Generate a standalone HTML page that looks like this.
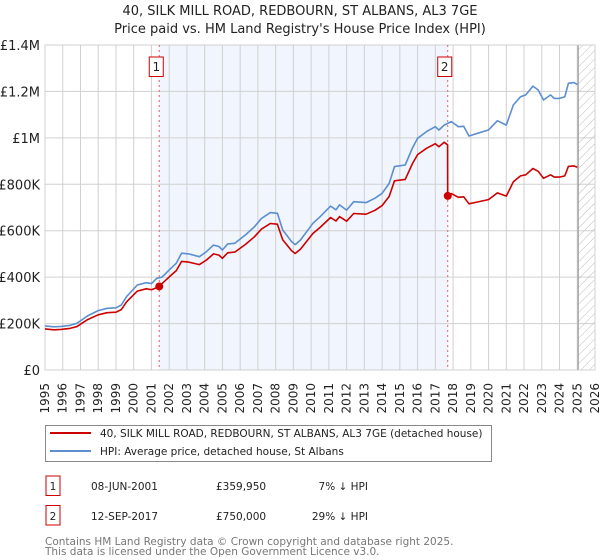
<!DOCTYPE html>
<html><head><meta charset="utf-8"><style>
body{margin:0;background:#fff;font-family:"Liberation Sans","DejaVu Sans",sans-serif;}
svg{display:block}
</style></head><body>
<svg id="chart" width="600" height="560" viewBox="0 0 600 560" font-family="DejaVu Sans, Liberation Sans, sans-serif">
<defs><pattern id="hatch" width="6" height="6" patternUnits="userSpaceOnUse" patternTransform="rotate(45)"><line x1="0" y1="0" x2="0" y2="6" stroke="#bbb" stroke-width="1"/></pattern></defs>
<text x="300" y="15" text-anchor="middle" font-size="13" fill="#222">40, SILK MILL ROAD, REDBOURN, ST ALBANS, AL3 7GE</text>
<text x="300" y="33" text-anchor="middle" font-size="13" fill="#222">Price paid vs. HM Land Registry's House Price Index (HPI)</text>
<g id="plot"></g>
<g>
<rect x="45.5" y="425.5" width="446" height="36" fill="#fff" stroke="#888"/>
<line x1="50" y1="433" x2="91" y2="433" stroke="#cc0000" stroke-width="2"/>
<text x="100" y="437" font-size="10.5" fill="#222">40, SILK MILL ROAD, REDBOURN, ST ALBANS, AL3 7GE (detached house)</text>
<line x1="50" y1="451" x2="91" y2="451" stroke="#5b8fd0" stroke-width="2"/>
<text x="100" y="455" font-size="10.5" fill="#222">HPI: Average price, detached house, St Albans</text>
</g>
<g font-size="10.5" fill="#222">
<rect x="46" y="476" width="14" height="19.5" fill="#fff" stroke="#cc0000"/>
<text x="53" y="490" text-anchor="middle">1</text>
<text x="91" y="490">08-JUN-2001</text>
<text x="216" y="490">£359,950</text>
<text x="368" y="490" text-anchor="end">7% ↓ HPI</text>
<rect x="46" y="505.5" width="14" height="19.5" fill="#fff" stroke="#cc0000"/>
<text x="53" y="520" text-anchor="middle">2</text>
<text x="91" y="520">12-SEP-2017</text>
<text x="216" y="520">£750,000</text>
<text x="368" y="520" text-anchor="end">29% ↓ HPI</text>
</g>
<text x="45" y="545" font-size="10.5" fill="#777">Contains HM Land Registry data © Crown copyright and database right 2025.</text>
<text x="45" y="555" font-size="10.5" fill="#777">This data is licensed under the Open Government Licence v3.0.</text>
</svg>
<script>
const hpiYears=[1995.0,1995.5,1995.9,1996.4,1996.8,1997.4,1998.0,1998.5,1999.0,1999.3,1999.6,2000.2,2000.7,2001.0,2001.3,2001.6,2002.0,2002.4,2002.7,2003.1,2003.7,2004.1,2004.5,2004.8,2005.0,2005.3,2005.7,2006.3,2006.8,2007.2,2007.7,2008.1,2008.4,2008.9,2009.1,2009.4,2010.1,2010.5,2011.1,2011.4,2011.6,2012.0,2012.4,2013.1,2013.6,2014.0,2014.4,2014.7,2015.3,2015.7,2016.0,2016.5,2017.0,2017.2,2017.5,2017.9,2018.3,2018.6,2018.9,2019.4,2020.0,2020.5,2021.0,2021.4,2021.8,2022.1,2022.5,2022.8,2023.1,2023.5,2023.7,2024.0,2024.3,2024.5,2024.8,2025.0];
const hpiValues=[190,186,188,192,201,233,256,266,268,280,316,366,376,372,395,400,431,460,503,500,488,510,538,532,517,543,546,582,617,653,678,675,603,553,540,560,632,660,706,690,711,689,725,721,740,761,804,876,883,955,998,1027,1048,1034,1055,1070,1048,1050,1008,1020,1034,1074,1055,1142,1177,1185,1223,1206,1163,1185,1170,1170,1177,1235,1238,1230];
const priceYears=[1995.0,1995.5,1995.9,1996.4,1996.8,1997.4,1998.0,1998.5,1999.0,1999.3,1999.6,2000.2,2000.7,2001.0,2001.3,2001.44,2001.6,2002.0,2002.4,2002.7,2003.1,2003.7,2004.1,2004.5,2004.8,2005.0,2005.3,2005.7,2006.3,2006.8,2007.2,2007.7,2008.1,2008.4,2008.9,2009.1,2009.4,2010.1,2010.5,2011.1,2011.4,2011.6,2012.0,2012.4,2013.1,2013.6,2014.0,2014.4,2014.7,2015.3,2015.7,2016.0,2016.5,2017.0,2017.2,2017.5,2017.69,2017.7,2017.9,2018.3,2018.6,2018.9,2019.4,2020.0,2020.5,2021.0,2021.4,2021.8,2022.1,2022.5,2022.8,2023.1,2023.5,2023.7,2024.0,2024.3,2024.5,2024.8,2025.0];
const priceValues=[177,173,175,179,187,217,238,247,249,260,294,340,350,346,355,360,372,401,428,468,465,454,474,500,495,481,505,508,541,574,607,631,628,561,514,502,521,588,614,657,642,661,641,674,671,688,708,748,815,821,888,928,955,975,962,981,970,750,760,744,746,716,724,734,763,749,811,836,841,868,856,826,841,831,831,836,877,879,873];
const saleYears=[2001.44,2017.7];
const saleValues=[359.95,750];
const saleLabels=["1","2"];
const yTicks=[0,200,400,600,800,1000,1200,1400];
const yTickLabels=["£0","£200K","£400K","£600K","£800K","£1M","£1.2M","£1.4M"];
const xTicks=[1995,1996,1997,1998,1999,2000,2001,2002,2003,2004,2005,2006,2007,2008,2009,2010,2011,2012,2013,2014,2015,2016,2017,2018,2019,2020,2021,2022,2023,2024,2025,2026];
const dataEndYear=2025.05;

const L=45,R=595,T=45,B=370;
const xs=y=>L+(y-1995)/(2026-1995)*(R-L);
const ys=v=>B-v/1400*(B-T);
const NS="http://www.w3.org/2000/svg";
const plot=document.getElementById('plot');
function mk(tag,attrs,parent){const e=document.createElementNS(NS,tag);for(const k in attrs)e.setAttribute(k,attrs[k]);(parent||plot).appendChild(e);return e;}

let e=mk('rect',{x:xs(saleYears[0]),y:T,width:xs(saleYears[1])-xs(saleYears[0]),height:B-T,fill:'#f1f5fd'});


xTicks.forEach(t=>{
  const g=mk('line',{x1:xs(t),x2:xs(t),y1:T,y2:B,stroke:'#d0d0d0','stroke-width':1});
  
  
  const lb=mk('text',{transform:`translate(${xs(t)+4},383) rotate(-90)`,'text-anchor':'end','font-size':12,fill:'#222'});
  lb.textContent=t;
  
  
});
yTicks.forEach((t,i)=>{
  const g=mk('line',{x1:L,x2:R,y1:ys(t),y2:ys(t),stroke:'#d0d0d0','stroke-width':1});
  
  
  const lb=mk('text',{x:40,y:ys(t)+5,'text-anchor':'end','font-size':13,fill:'#222'});
  lb.textContent=yTickLabels[i];
  
  
});
e=mk('rect',{x:xs(dataEndYear),y:T,width:R-xs(dataEndYear),height:B-T,fill:'url(#hatch)'});


e=mk('line',{x1:xs(dataEndYear),x2:xs(dataEndYear),y1:T,y2:B,stroke:'#999','stroke-width':1.2});


e=mk('rect',{x:L,y:T,width:R-L,height:B-T,fill:'none',stroke:'#d0d0d0'});



saleYears.forEach((y,i)=>{
  const l=mk('line',{x1:xs(y),x2:xs(y),y1:T,y2:B,stroke:'#e06060','stroke-width':1,'stroke-dasharray':'2,3'});
  
  
});

function path(xa,va,color,name){
  const d=xa.map((y,i)=>(i?'L':'M')+xs(y).toFixed(1)+','+ys(va[i]).toFixed(1)).join('');
  const p=mk('path',{d:d,fill:'none',stroke:color,'stroke-width':1.6,'stroke-linejoin':'round'});
  
  
}
path(hpiYears,hpiValues,'#5b8fd0','hpi-line');
path(priceYears,priceValues,'#cc0000','price-paid-line');

saleYears.forEach((y,i)=>{
  const c=mk('circle',{cx:xs(y),cy:ys(saleValues[i]),r:4,fill:'#cc0000'});
  
  
  const bx=xs(y)-3;
  const r=mk('rect',{x:bx-7,y:57,width:14,height:19.5,fill:'#fff',stroke:'#cc0000'});
  
  
  const t=mk('text',{x:bx,y:71,'text-anchor':'middle','font-size':12,fill:'#222'});
  t.textContent=saleLabels[i];
  
  
});
</script>
</body></html>
